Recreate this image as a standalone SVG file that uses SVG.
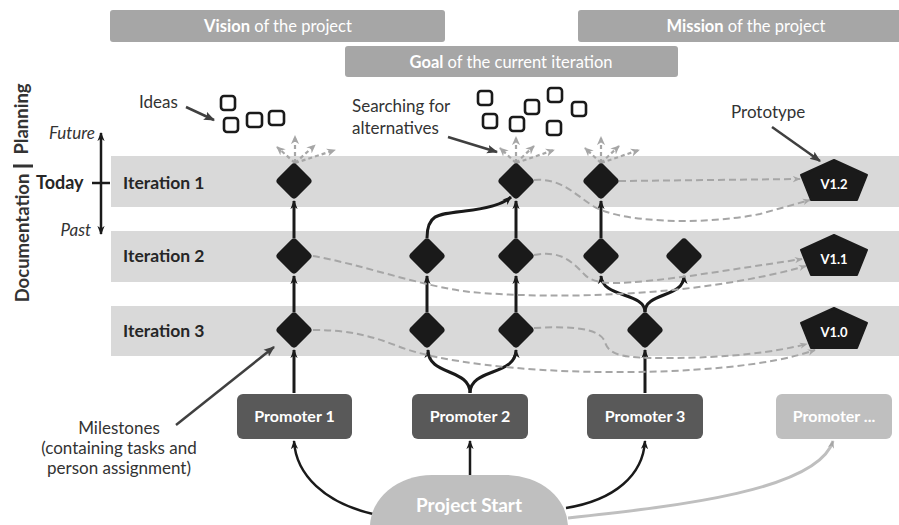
<svg xmlns="http://www.w3.org/2000/svg" width="899" height="525" viewBox="0 0 899 525">
  <style>
    text { font-family: Lato, "Open Sans", "Liberation Sans", sans-serif; }
    .band { fill: #d9d9d9; }
    .bar { fill: #a6a6a6; }
    .bar-t { font-size: 16.5px; fill: #ffffff; text-anchor: middle; }
    .b { font-weight: bold; }
    .lbl { font-size: 17px; fill: #333333; }
    .iter { font-size: 17.5px; font-weight: bold; fill: #262626; }
    .side { font-size: 18.5px; font-weight: bold; fill: #333333; text-anchor: middle; }
    .ms { fill: #1a1a1a; }
    .idea { fill: none; stroke: #1a1a1a; stroke-width: 2.6; }
    .proto { fill: #1a1a1a; stroke: #1a1a1a; stroke-width: 2; stroke-linejoin: round; }
    .proto-t { font-size: 13px; font-weight: bold; fill: #ffffff; text-anchor: middle; }
    .prom { fill: #595959; }
    .prom-t { font-size: 16px; font-weight: bold; fill: #ffffff; text-anchor: middle; }
    .solid { fill: none; stroke: #1a1a1a; stroke-width: 3; marker-end: url(#ah); }
    .start { fill: none; stroke: #1a1a1a; stroke-width: 2.5; marker-end: url(#ah); }
    .dash { fill: none; stroke: #a6a6a6; stroke-width: 2; stroke-dasharray: 7 4; marker-end: url(#ahg); }
    .ray { fill: none; stroke: #a6a6a6; stroke-width: 2.2; stroke-dasharray: 4 3; marker-end: url(#ahr); }
    .note { fill: none; stroke: #404040; stroke-width: 2.5; marker-end: url(#ahd); }
  </style>
  <defs>
    <marker id="ah" viewBox="0 0 10 10" refX="9" refY="5" markerWidth="9" markerHeight="9" markerUnits="userSpaceOnUse" orient="auto">
      <path d="M0,1 L10,5 L0,9 L3,5 z" fill="#1a1a1a"/>
    </marker>
    <marker id="ahg" viewBox="0 0 10 10" refX="9" refY="5" markerWidth="8" markerHeight="8" markerUnits="userSpaceOnUse" orient="auto">
      <path d="M0,1 L10,5 L0,9 L3,5 z" fill="#a6a6a6"/>
    </marker>
    <marker id="ahr" viewBox="0 0 10 10" refX="9" refY="5" markerWidth="9" markerHeight="9" markerUnits="userSpaceOnUse" orient="auto">
      <path d="M0,0.5 L10,5 L0,9.5 L3,5 z" fill="#a6a6a6"/>
    </marker>
    <marker id="ahd" viewBox="0 0 10 10" refX="9" refY="5" markerWidth="11" markerHeight="11" markerUnits="userSpaceOnUse" orient="auto">
      <path d="M0,1 L10,5 L0,9 L2,5 z" fill="#404040"/>
    </marker>
    <rect id="dia" x="-13.5" y="-13.5" width="27" height="27" rx="4" transform="rotate(45)"/>
    <polygon id="pent" points="0,0 33,15 23,40 -23,40 -33,15"/>
  </defs>

  <!-- headline bars -->
  <g id="vision">
    <rect class="bar" x="110" y="10" width="335" height="32" rx="3"/>
    <text class="bar-t" x="278" y="32"><tspan class="b">Vision</tspan> of the project</text>
  </g>
  <g id="mission">
    <rect class="bar" x="578" y="10" width="340" height="32" rx="3"/>
    <text class="bar-t" x="746" y="32"><tspan class="b">Mission</tspan> of the project</text>
  </g>
  <g id="goal">
    <rect class="bar" x="345" y="46" width="333" height="31" rx="3"/>
    <text class="bar-t" x="511" y="68"><tspan class="b">Goal</tspan> of the current iteration</text>
  </g>

  <!-- time axis on the left -->
  <g id="time-axis">
    <text class="side" transform="translate(28,119) rotate(-90)">Planning</text>
    <line x1="13" y1="166" x2="33" y2="166" stroke="#333333" stroke-width="3"/>
    <text class="side" transform="translate(29,238) rotate(-90)">Documentation</text>
    <text x="36" y="189" font-size="18px" font-weight="bold" fill="#262626">Today</text>
    <text x="95" y="139" font-size="17px" font-style="italic" fill="#333333" text-anchor="end">Future</text>
    <text x="91" y="236" font-size="17px" font-style="italic" fill="#333333" text-anchor="end">Past</text>
    <line x1="92" y1="183" x2="110" y2="183" stroke="#1a1a1a" stroke-width="2.5"/>
    <line x1="101" y1="183" x2="101" y2="133" class="start"/>
    <line x1="101" y1="183" x2="101" y2="234" class="start"/>
  </g>

  <!-- iteration bands -->
  <g id="iteration-1">
    <rect class="band" x="111" y="156" width="788" height="51"/>
    <text class="iter" x="123" y="189">Iteration 1</text>
  </g>
  <g id="iteration-2">
    <rect class="band" x="111" y="231" width="788" height="51"/>
    <text class="iter" x="123" y="262">Iteration 2</text>
  </g>
  <g id="iteration-3">
    <rect class="band" x="111" y="306" width="788" height="50"/>
    <text class="iter" x="123" y="337">Iteration 3</text>
  </g>

  <!-- idea boxes -->
  <g id="ideas">
    <text class="lbl" x="139" y="108">Ideas</text>
    <rect class="idea" x="221" y="96" width="14" height="14" rx="3"/>
    <rect class="idea" x="224" y="118" width="14" height="14" rx="3"/>
    <rect class="idea" x="247" y="113" width="15" height="14" rx="3"/>
    <rect class="idea" x="269" y="111" width="15" height="14" rx="3"/>
  </g>
  <g id="alternatives">
    <text class="lbl" x="352" y="112">Searching for</text>
    <text class="lbl" x="352" y="134">alternatives</text>
    <rect class="idea" x="478" y="91" width="14" height="14" rx="3"/>
    <rect class="idea" x="483" y="114" width="14" height="14" rx="3"/>
    <rect class="idea" x="510" y="117" width="14" height="14" rx="3"/>
    <rect class="idea" x="525" y="100" width="14" height="14" rx="3"/>
    <rect class="idea" x="548" y="88" width="14" height="14" rx="3"/>
    <rect class="idea" x="547" y="121" width="14" height="14" rx="3"/>
    <rect class="idea" x="572" y="102" width="14" height="14" rx="3"/>
  </g>
  <g id="prototype-label">
    <text class="lbl" x="731" y="118">Prototype</text>
  </g>
  <g id="milestones-label">
    <text class="lbl" x="119" y="434" text-anchor="middle">Milestones</text>
    <text class="lbl" x="119" y="454" text-anchor="middle">(containing tasks and</text>
    <text class="lbl" x="119" y="474" text-anchor="middle">person assignment)</text>
  </g>

  <!-- connectors -->
  <g id="connectors">
    <!-- milestone chains -->
    <path class="solid" d="M294 393 L294 350"/>
    <path class="solid" d="M294 312 L294 276"/>
    <path class="solid" d="M294 238 L294 201"/>
    <path class="solid" d="M470 393 C470 368 428 376 428 350"/>
    <path class="solid" d="M470 393 C470 368 516 376 516 350"/>
    <path class="solid" d="M427 312 L427 276"/>
    <path class="solid" d="M427 238 C427 214 438 214 465 211 C490 208 503 204 511 197"/>
    <path class="solid" d="M516 312 L516 276"/>
    <path class="solid" d="M516 238 L516 201"/>
    <path class="solid" d="M645 393 L645 350"/>
    <path class="solid" d="M645 312 C645 292 602 298 601 276"/>
    <path class="solid" d="M645 312 C645 292 684 298 684 276"/>
    <path class="solid" d="M601 238 L601 201"/>

    <!-- from project start to promoters -->
    <path class="start" d="M373 514 C325 503 296 475 294 441"/>
    <path class="start" d="M470 475 L470 441"/>
    <path class="start" d="M566 508 C615 500 643 475 645 441"/>
    <path d="M568 518 C680 506 818 490 833 441" fill="none" stroke="#bfbfbf" stroke-width="3" marker-end="url(#ahg)"/>

    <!-- releases into prototypes -->
    <path class="dash" d="M619 181 L800 179"/>
    <path class="dash" d="M534 180 C560 178 572 192 593 206 C618 222 700 226 760 214 L810 200"/>
    <path class="dash" d="M313 256 C360 264 420 286 470 292 C560 300 700 296 806 266"/>
    <path class="dash" d="M534 255 C562 250 572 262 585 275 C597 287 625 284 690 276 L802 259"/>
    <path class="dash" d="M313 330 C350 330 372 336 400 347 C440 362 520 371 600 372 C690 373 770 366 815 350"/>
    <path class="dash" d="M534 328 C572 326 600 328 605 342 C609 356 625 358 665 358 C730 358 775 352 807 344"/>

    <!-- exploration rays above the current iteration -->
    <path class="ray" d="M295 163 L277 147"/>
    <path class="ray" d="M295 163 L295 136"/>
    <path class="ray" d="M295 163 L315 145"/>
    <path class="ray" d="M295 163 L335 150"/>
    <path class="ray" d="M516 163 L500 148"/>
    <path class="ray" d="M516 163 L516 137"/>
    <path class="ray" d="M516 163 L534 146"/>
    <path class="ray" d="M516 163 L554 150"/>
    <path class="ray" d="M601 163 L585 148"/>
    <path class="ray" d="M601 163 L601 137"/>
    <path class="ray" d="M601 163 L619 146"/>
    <path class="ray" d="M601 163 L639 150"/>

    <!-- annotation pointers -->
    <path class="note" d="M186 107 L214 120"/>
    <path class="note" d="M448 137 L497 152"/>
    <path class="note" d="M772 127 L820 161"/>
    <path class="note" d="M176 425 L274 347"/>
  </g>

  <!-- milestones -->
  <g id="m-1-1" class="ms"><use href="#dia" x="294" y="181"/></g>
  <g id="m-1-2" class="ms"><use href="#dia" x="294" y="256"/></g>
  <g id="m-1-3" class="ms"><use href="#dia" x="294" y="330"/></g>
  <g id="m-2-2" class="ms"><use href="#dia" x="427" y="256"/></g>
  <g id="m-2-3" class="ms"><use href="#dia" x="427" y="330"/></g>
  <g id="m-3-1" class="ms"><use href="#dia" x="516" y="181"/></g>
  <g id="m-3-2" class="ms"><use href="#dia" x="516" y="256"/></g>
  <g id="m-3-3" class="ms"><use href="#dia" x="516" y="330"/></g>
  <g id="m-4-1" class="ms"><use href="#dia" x="601" y="181"/></g>
  <g id="m-4-2" class="ms"><use href="#dia" x="601" y="256"/></g>
  <g id="m-5-2" class="ms"><use href="#dia" x="684" y="256"/></g>
  <g id="m-5-3" class="ms"><use href="#dia" x="645" y="330"/></g>

  <!-- prototypes -->
  <g id="v12"><use href="#pent" class="proto" x="834" y="160"/><text class="proto-t" x="834" y="189">V1.2</text></g>
  <g id="v11"><use href="#pent" class="proto" x="834" y="235"/><text class="proto-t" x="834" y="264">V1.1</text></g>
  <g id="v10"><use href="#pent" class="proto" x="834" y="308"/><text class="proto-t" x="834" y="337">V1.0</text></g>

  <!-- promoters -->
  <g id="promoter-1"><rect class="prom" x="237" y="394" width="115" height="45" rx="6"/><text class="prom-t" x="294.5" y="422">Promoter 1</text></g>
  <g id="promoter-2"><rect class="prom" x="412" y="394" width="116" height="45" rx="6"/><text class="prom-t" x="470" y="422">Promoter 2</text></g>
  <g id="promoter-3"><rect class="prom" x="587" y="394" width="116" height="45" rx="6"/><text class="prom-t" x="645" y="422">Promoter 3</text></g>
  <g id="promoter-n"><rect x="776" y="394" width="116" height="45" rx="6" fill="#bfbfbf"/><text class="prom-t" x="834" y="422" fill="#f2f2f2">Promoter ...</text></g>

  <!-- project start -->
  <g id="project-start">
    <rect x="370" y="475" width="198" height="120" rx="62" ry="52" fill="#bfbfbf"/>
    <text x="469" y="512" font-size="19px" font-weight="bold" fill="#ffffff" text-anchor="middle">Project Start</text>
  </g>
</svg>
